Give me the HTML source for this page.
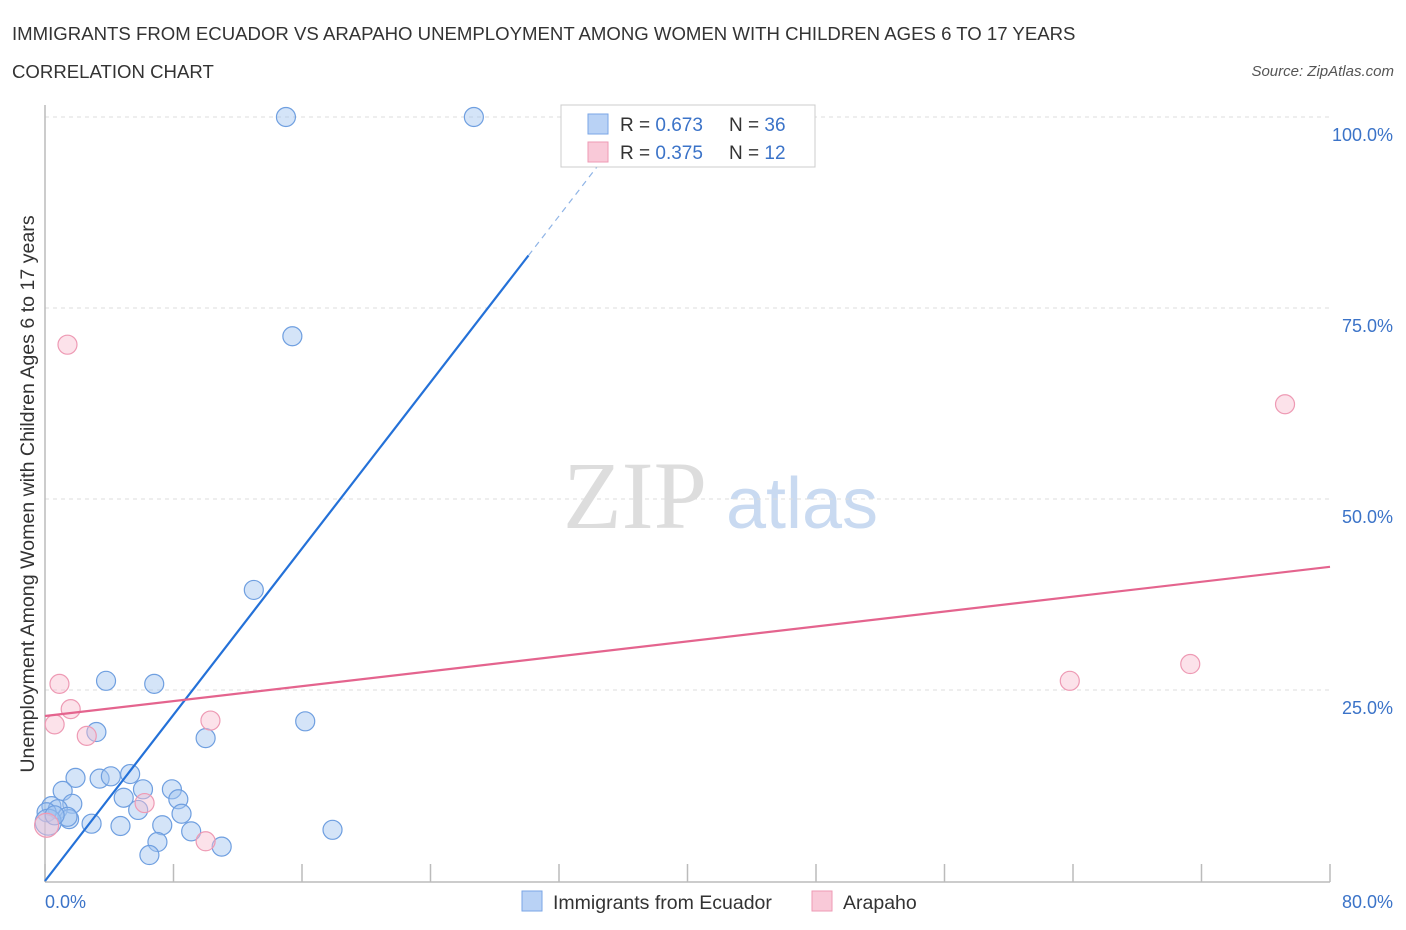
<!DOCTYPE html>
<html><head><meta charset="utf-8"><style>
body{margin:0;background:#fff;font-family:"Liberation Sans",sans-serif}
svg{display:block}
</style></head><body>
<svg width="1406" height="930" xmlns="http://www.w3.org/2000/svg">
<text x="12" y="40" font-size="18.6" fill="#333">IMMIGRANTS FROM ECUADOR VS ARAPAHO UNEMPLOYMENT AMONG WOMEN WITH CHILDREN AGES 6 TO 17 YEARS</text>
<text x="12" y="78" font-size="18.6" fill="#333">CORRELATION CHART</text>
<text x="1394" y="76" font-size="15" fill="#555" font-style="italic" text-anchor="end">Source: ZipAtlas.com</text>
<text x="635" y="528" font-size="96" fill="#ddd" font-family="Liberation Serif" text-anchor="middle">ZIP</text>
<text x="802" y="528" font-size="72" fill="#c9daf1" text-anchor="middle">atlas</text>
<g id="grid"></g>
<g id="axes"></g>
<g id="marks"></g>
<text transform="translate(34,494) rotate(-90)" font-size="19.6" fill="#333" text-anchor="middle">Unemployment Among Women with Children Ages 6 to 17 years</text>
<text x="45" y="908" font-size="18" fill="#3b73c8">0.0%</text>
<text x="1393" y="908" font-size="18" fill="#3b73c8" text-anchor="end">80.0%</text>
<g>
<rect x="561" y="105" width="254" height="62" fill="#fff" stroke="#ccc"/>
<rect x="588" y="114" width="20" height="20" fill="#b9d2f5" stroke="#7aa6e6"/>
<rect x="588" y="142" width="20" height="20" fill="#f9c9d8" stroke="#ee9ab4"/>
<text x="620" y="131" font-size="19" fill="#333">R = <tspan fill="#3b73c8">0.673</tspan></text>
<text x="729" y="131" font-size="19" fill="#333">N = <tspan fill="#3b73c8">36</tspan></text>
<text x="620" y="159" font-size="19" fill="#333">R = <tspan fill="#3b73c8">0.375</tspan></text>
<text x="729" y="159" font-size="19" fill="#333">N =  <tspan fill="#3b73c8">12</tspan></text>
</g>
<g>
<rect x="522" y="891" width="20" height="20" fill="#b9d2f5" stroke="#7aa6e6"/>
<text x="553" y="909" font-size="19.5" fill="#333">Immigrants from Ecuador</text>
<rect x="812" y="891" width="20" height="20" fill="#f9c9d8" stroke="#ee9ab4"/>
<text x="843" y="909" font-size="19.5" fill="#333">Arapaho</text>
</g>
</svg>
<script>
const yTicks=[25,50,75,100];
const yTickLabels=["25.0%","50.0%","75.0%","100.0%"];
const xTicks=[0,8,16,24,32,40,48,56,64,72,80];
const blueX=[15.0,26.7,15.4,13.0,3.8,6.8,16.2,3.2,10.0,1.9,3.4,4.1,5.3,1.1,6.1,7.9,1.7,4.9,8.3,0.4,0.8,0.1,1.5,2.9,5.8,8.5,7.3,4.7,9.1,17.9,1.4,7.0,6.5,11.0,0.2,0.6];
const blueY=[100,100,71.3,38.1,26.2,25.8,20.9,19.5,18.7,13.5,13.4,13.7,14.0,11.8,12.0,12.0,10.1,10.9,10.7,9.8,9.4,9.0,8.1,7.5,9.3,8.8,7.3,7.2,6.5,6.7,8.4,5.1,3.4,4.5,7.7,8.6];
const pinkX=[1.4,77.2,71.3,63.8,0.9,1.6,0.6,2.6,10.3,6.2,10.0,0.1];
const pinkY=[70.2,62.4,28.4,26.2,25.8,22.5,20.5,19.0,21.0,10.2,5.2,7.3];
const blueTrend=[0,2.72];   // intercept, slope
const pinkTrend=[21.6,0.244];
const X=v=>45+v*1285/80, Y=v=>881-v*7.64;
const NS="http://www.w3.org/2000/svg";
function mk(tag,attrs,parent){const e=document.createElementNS(NS,tag);for(const k in attrs)e.setAttribute(k,attrs[k]);document.getElementById(parent).appendChild(e);return e;}
yTicks.forEach((t,i)=>{
 const l=mk('line',{x1:45,x2:1330,y1:Y(t),y2:Y(t),stroke:'#ddd','stroke-dasharray':'4,4'},'grid');
 
 
 const tx=mk('text',{x:1393,y:Y(t)+24,'font-size':18,fill:'#3b73c8','text-anchor':'end'},'grid');
 tx.textContent=yTickLabels[i];
 
 
});
let a=mk('line',{x1:45,x2:45,y1:105,y2:882,stroke:'#bbb','stroke-width':1.5},'axes');


a=mk('line',{x1:45,x2:1330,y1:882,y2:882,stroke:'#bbb','stroke-width':1.5},'axes');


xTicks.forEach(t=>{
 const l=mk('line',{x1:X(t),x2:X(t),y1:864,y2:882,stroke:'#bbb','stroke-width':1.5},'axes');
 
 
});
blueX.forEach((x,i)=>{
 const big=(x<0.3&&blueY[i]<8);
 const c=mk('circle',{cx:X(x),cy:Y(blueY[i]),r:big?13:9.5,fill:'rgba(160,196,240,0.45)',stroke:'#6f9fe0','stroke-width':1.2},'marks');
 
 
});
pinkX.forEach((x,i)=>{
 const big=(x<0.3);
 const c=mk('circle',{cx:X(x),cy:Y(pinkY[i]),r:big?12:9.5,fill:'rgba(248,190,208,0.45)',stroke:'#ee9ab4','stroke-width':1.2},'marks');
 
 
});
const bx1=30.1,bx2=34.8;
let t=mk('line',{x1:X(0),y1:Y(blueTrend[0]),x2:X(bx1),y2:Y(blueTrend[0]+blueTrend[1]*bx1),stroke:'#2471d8','stroke-width':2.2},'marks');


t=mk('line',{x1:X(bx1),y1:Y(blueTrend[0]+blueTrend[1]*bx1),x2:X(bx2),y2:Y(blueTrend[0]+blueTrend[1]*bx2),stroke:'#8fb4e6','stroke-width':1.2,'stroke-dasharray':'6,5'},'marks');


t=mk('line',{x1:X(0),y1:Y(pinkTrend[0]),x2:X(80),y2:Y(pinkTrend[0]+pinkTrend[1]*80),stroke:'#e4648e','stroke-width':2.2},'marks');


</script>
</body></html>
